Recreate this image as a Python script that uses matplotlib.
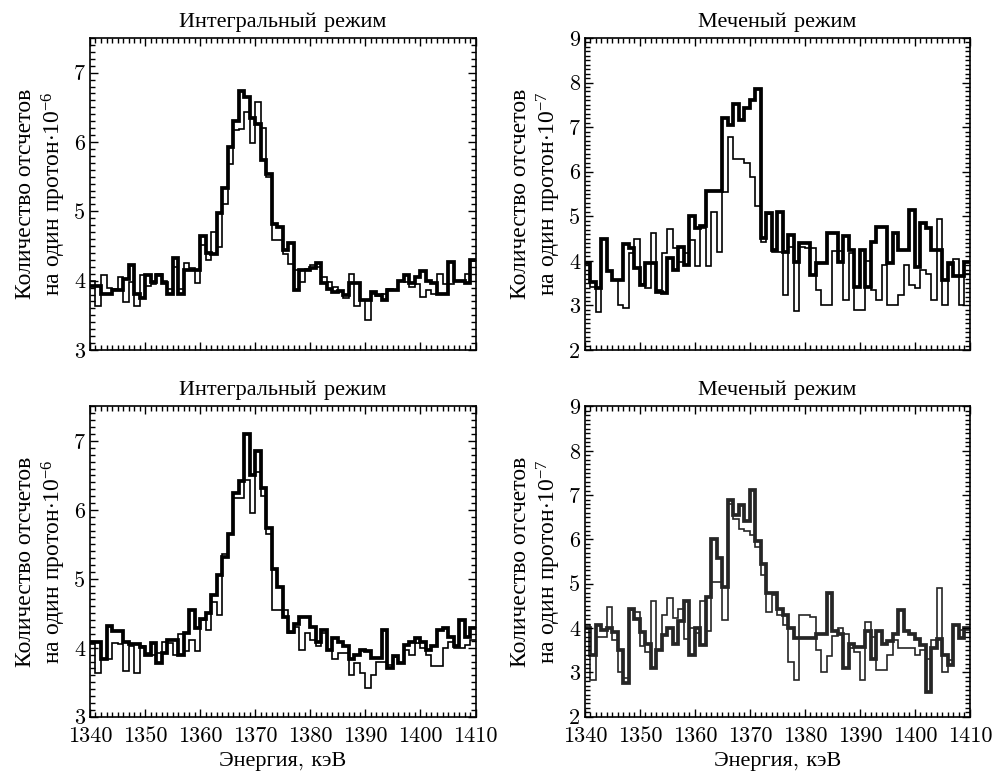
import numpy as np
import matplotlib
matplotlib.use('Agg')
import matplotlib.pyplot as plt
from matplotlib.ticker import MultipleLocator

plt.rcParams['font.family'] = ['cmr10', 'Liberation Serif']
# math parts of the labels sit next to Cyrillic text, so use a font that has it
plt.rcParams['mathtext.fontset'] = 'custom'
plt.rcParams['mathtext.rm'] = 'Liberation Serif'
plt.rcParams['mathtext.it'] = 'Liberation Serif:italic'
plt.rcParams['mathtext.bf'] = 'Liberation Serif:bold'
plt.rcParams['axes.unicode_minus'] = False

# bin edges, 1 keV per bin
edges = np.arange(1340, 1411)

# Интегральный режим, top (x 10^-6)
tl_thick = [3.93, 3.93, 3.81, 3.81, 3.86, 3.86, 4.03, 4.22, 3.81, 3.75,
            4.08, 3.98, 4.08, 3.97, 3.81, 4.32, 3.81, 4.15, 4.15, 4.15,
            4.65, 4.40, 4.39, 4.97, 5.33, 5.93, 6.31, 6.74, 6.65, 6.34,
            6.26, 5.74, 5.54, 4.82, 4.77, 4.44, 4.54, 3.86, 4.15, 4.15,
            4.18, 4.26, 3.96, 3.88, 3.84, 3.85, 3.80, 3.97, 3.97, 3.72,
            3.72, 3.83, 3.80, 3.72, 3.86, 3.86, 4.00, 4.08, 3.96, 4.05,
            4.14, 4.00, 3.96, 3.81, 3.81, 4.27, 3.99, 3.99, 3.96, 4.30]
tl_thin = [4.00, 3.64, 4.08, 3.90, 3.88, 4.05, 3.69, 3.98, 3.64, 4.08,
           3.92, 3.95, 4.10, 4.00, 3.88, 4.20, 3.88, 4.25, 4.18, 3.97,
           4.51, 4.30, 4.70, 4.49, 5.10, 5.69, 6.17, 6.19, 6.43, 5.98,
           6.57, 6.20, 5.50, 4.58, 4.58, 4.39, 4.24, 4.15, 3.98, 4.17,
           4.22, 4.20, 4.05, 3.98, 3.91, 3.85, 3.75, 4.10, 3.64, 3.72,
           3.43, 3.81, 3.78, 3.81, 3.88, 3.86, 4.00, 3.98, 3.91, 3.95,
           3.76, 3.86, 3.81, 4.10, 3.95, 3.95, 4.00, 4.00, 4.10, 4.29]

# Меченый режим, top (x 10^-7)
tr_thick = [3.96, 3.53, 3.38, 4.48, 3.78, 3.57, 3.57, 4.37, 4.28, 3.83,
            3.46, 3.95, 3.95, 3.31, 3.27, 4.06, 3.80, 4.32, 3.90, 5.00,
            4.73, 4.78, 5.57, 5.57, 5.57, 7.20, 7.05, 7.51, 7.16, 7.44,
            7.61, 7.85, 4.52, 5.07, 4.25, 5.10, 4.21, 4.57, 3.98, 4.40,
            4.40, 3.68, 3.95, 3.95, 4.62, 4.62, 3.98, 4.56, 4.25, 3.42,
            4.25, 3.42, 4.43, 4.77, 4.77, 3.95, 4.62, 4.25, 4.25, 5.14,
            3.87, 4.84, 4.73, 4.25, 4.25, 3.57, 3.95, 3.65, 3.65, 3.98]
tr_thin = [3.95, 3.42, 2.86, 4.48, 3.78, 3.57, 3.01, 2.94, 4.17, 4.48,
           3.48, 3.40, 4.63, 3.35, 4.17, 4.71, 4.28, 3.98, 4.17, 4.47,
           3.89, 4.73, 3.89, 5.09, 4.20, 5.55, 6.78, 6.28, 6.28, 6.19,
           5.89, 5.23, 4.43, 5.06, 4.21, 4.21, 3.24, 4.30, 2.88, 4.32,
           4.28, 4.28, 3.35, 3.00, 3.00, 4.23, 4.23, 3.12, 4.17, 2.90,
           2.90, 4.00, 3.35, 3.12, 3.91, 3.01, 3.01, 3.24, 3.91, 3.46,
           3.40, 3.80, 3.70, 3.12, 4.93, 3.01, 3.90, 4.05, 3.00, 3.70]

# Интегральный режим, bottom
bl_thick = [4.09, 4.09, 3.83, 4.31, 4.25, 4.25, 4.09, 4.05, 4.05, 4.01,
            3.89, 4.07, 3.78, 3.92, 4.11, 4.11, 3.89, 4.22, 4.55, 4.29,
            4.41, 4.50, 4.76, 5.05, 5.31, 5.65, 6.24, 6.42, 7.10, 6.51,
            6.85, 6.32, 5.74, 5.14, 4.88, 4.45, 4.23, 4.35, 4.45, 4.45,
            4.30, 4.09, 4.26, 3.97, 4.14, 4.09, 4.02, 3.83, 3.90, 3.97,
            3.95, 3.85, 3.85, 4.26, 3.71, 3.88, 3.78, 4.04, 4.09, 4.14,
            4.09, 3.97, 4.02, 4.26, 4.28, 4.16, 4.02, 4.40, 4.16, 4.28]
bl_thin = [4.05, 3.64, 3.83, 3.83, 4.07, 4.05, 3.66, 4.02, 3.64, 4.02,
           3.92, 3.90, 3.92, 4.09, 4.07, 3.90, 4.20, 3.95, 4.11, 3.95,
           4.40, 4.26, 4.67, 4.47, 5.36, 5.65, 6.17, 6.17, 6.44, 5.96,
           6.55, 6.20, 5.65, 4.55, 4.55, 4.55, 4.21, 4.30, 3.97, 4.21,
           4.11, 4.02, 4.21, 3.97, 3.83, 3.92, 3.92, 3.61, 3.78, 3.64,
           3.41, 3.61, 3.80, 3.80, 3.75, 3.87, 3.78, 3.97, 3.90, 4.07,
           4.00, 3.90, 3.73, 3.73, 3.99, 4.09, 3.99, 3.99, 4.04, 4.11]

# Меченый режим, bottom
br_thick = [3.99, 3.39, 4.07, 3.95, 3.99, 3.90, 3.50, 2.75, 4.44, 4.20,
            3.90, 3.65, 3.09, 3.50, 3.85, 4.00, 3.65, 4.15, 4.61, 3.39,
            3.99, 3.61, 4.70, 6.02, 5.57, 4.93, 6.90, 6.54, 6.77, 6.41,
            7.12, 5.97, 5.45, 4.78, 4.78, 4.44, 4.30, 3.99, 3.77, 3.77,
            3.77, 3.77, 3.86, 3.86, 4.78, 3.93, 3.86, 3.09, 3.65, 3.58,
            3.58, 3.93, 3.30, 3.93, 3.65, 3.70, 3.86, 4.40, 3.93, 3.86,
            3.75, 3.62, 2.56, 3.55, 3.75, 3.39, 3.16, 4.07, 3.77, 4.00]
br_thin = [4.07, 2.83, 3.80, 3.80, 4.48, 3.72, 3.00, 2.87, 4.40, 4.37,
           3.60, 3.45, 4.61, 3.50, 4.29, 4.67, 4.22, 4.44, 3.75, 3.99,
           3.88, 4.61, 3.94, 5.04, 5.04, 4.18, 6.80, 6.47, 6.24, 6.20,
           6.10, 5.83, 5.20, 4.37, 4.74, 4.29, 4.07, 3.24, 2.83, 4.29,
           4.29, 4.25, 3.50, 3.00, 3.38, 3.83, 3.99, 3.86, 3.55, 3.45,
           2.83, 4.14, 3.80, 3.05, 3.05, 3.39, 3.72, 3.55, 3.55, 3.55,
           3.39, 3.50, 3.30, 3.72, 4.91, 3.01, 3.28, 4.07, 3.95, 3.95]

title_int = 'Интегральный режим'
title_tag = 'Меченый режим'
ylab6 = 'Количество отсчетов\nна один протон$\\cdot10^{-6}$'
ylab7 = 'Количество отсчетов\nна один протон$\\cdot10^{-7}$'
xlab = 'Энергия, кэВ'

fig = plt.figure(figsize=(10.02, 7.79), dpi=100)

panels = [
    # rect, thick, thin, ylim, yticks, title, ylabel, bottom row, colour
    ([0.0898, 0.5507, 0.3848, 0.4005], tl_thick, tl_thin, (3, 7.5), range(3, 8), title_int, ylab6, False, 'black'),
    ([0.5838, 0.5507, 0.3842, 0.4005], tr_thick, tr_thin, (2, 9), range(2, 10), title_tag, ylab7, False, 'black'),
    ([0.0898, 0.0800, 0.3848, 0.3982], bl_thick, bl_thin, (3, 7.5), range(3, 8), title_int, ylab6, True, 'black'),
    ([0.5838, 0.0800, 0.3842, 0.3982], br_thick, br_thin, (2, 9), range(2, 10), title_tag, ylab7, True, '#262626'),
]

for rect, thick, thin, ylim, yticks, title, ylab, bottom, col in panels:
    ax = fig.add_axes(rect)
    ax.stairs(thin, edges, baseline=None, color=col, lw=1.2)
    ax.stairs(thick, edges, baseline=None, color=col, lw=2.7)
    ax.set_xlim(1340, 1410)
    ax.set_ylim(*ylim)
    ax.set_yticks(list(yticks))
    ax.set_xticks(range(1340, 1411, 10))
    ax.xaxis.set_minor_locator(MultipleLocator(1))
    ax.yaxis.set_minor_locator(MultipleLocator(0.1))
    ax.tick_params(which='both', direction='in', top=True, right=True,
                   labelsize=16, width=1.0)
    ax.tick_params(which='major', length=6)
    ax.tick_params(which='minor', length=3.5)
    ax.tick_params(axis='x', pad=7)
    for s in ax.spines.values():
        s.set_linewidth(1.2)
    if bottom:
        ax.set_xlabel(xlab, fontsize=16, labelpad=4)
    else:
        ax.tick_params(axis='x', labelbottom=False)
    ax.set_title(title, fontsize=16, pad=8)
    ax.set_ylabel(ylab, fontsize=17, labelpad=4, family='Liberation Serif')

fig.savefig('out.png', dpi=100)
